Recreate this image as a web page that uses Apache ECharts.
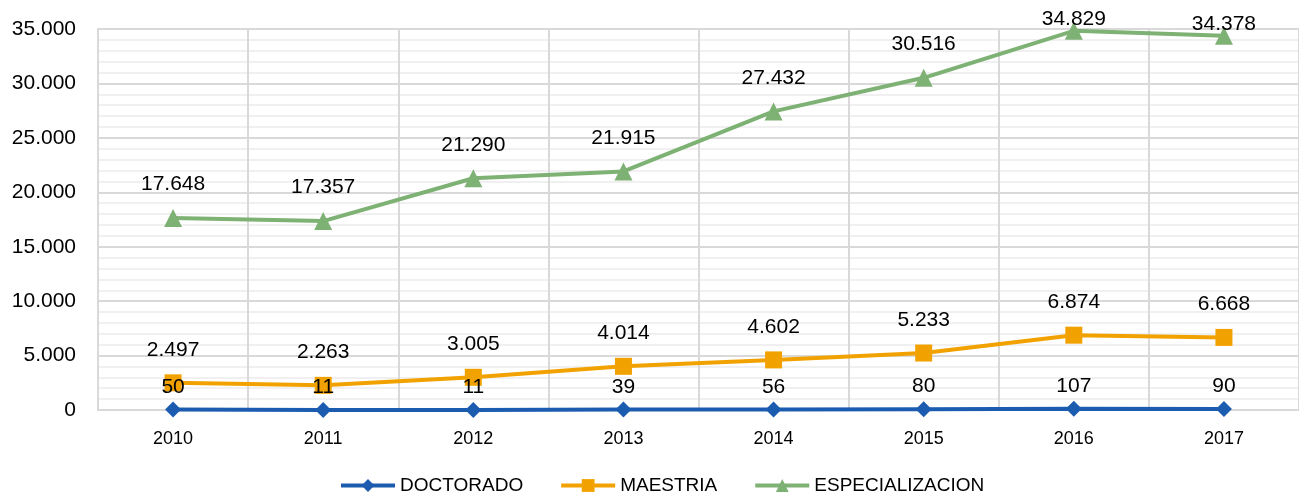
<!DOCTYPE html>
<html>
<head>
<meta charset="utf-8">
<script src="https://cdn.jsdelivr.net/npm/echarts@6/dist/echarts.min.js"></script>
<style>
html,body{margin:0;padding:0;background:#fff;}
#chart{width:1299px;height:501px;}
</style>
</head>
<body>
<div id="chart"></div>
<script>
const categories = ['2010','2011','2012','2013','2014','2015','2016','2017'];
const doctorado = [50, 11, 11, 39, 56, 80, 107, 90];
const maestria = [2497, 2263, 3005, 4014, 4602, 5233, 6874, 6668];
const especializacion = [17648, 17357, 21290, 21915, 27432, 30516, 34829, 34378];
const seriesNames = ['DOCTORADO', 'MAESTRIA', 'ESPECIALIZACION'];
const Y_MAX = 35000;

function fmt(v){
  return String(Math.round(v)).replace(/\B(?=(\d{3})+(?!\d))/g, '.');
}
const FONT = '"Liberation Sans", Arial, sans-serif';
const chart = echarts.init(document.getElementById('chart'), null, {renderer:'canvas'});
function mk(name, data, color, symbol, size, dist){
  // labels near the top of the plot are pulled down so they stay inside the picture
  const items = data.map(v => v > Y_MAX * 0.96 ? {value: v, label: {distance: -8}} : v);
  return {
    name: name, type: 'line', data: items,
    symbol: symbol, symbolSize: size,
    lineStyle: {color: color, width: 4},
    itemStyle: {color: color},
    label: {show: true, position: 'top', distance: dist, color: '#000',
      fontFamily: FONT, fontSize: 21, formatter: p => fmt(p.value)},
    emphasis: {disabled: true},
    animation: false
  };
}
chart.setOption({
  animation: false,
  textStyle: {fontFamily: FONT},
  grid: {left: 98, right: 0, top: 29, bottom: 91, containLabel: false},
  legend: {
    bottom: 1, left: 334, itemWidth: 54, itemHeight: 16, itemGap: 36,
    lineStyle: {width: 4},
    textStyle: {fontFamily: FONT, fontSize: 19, color: '#000'},
    data: seriesNames
  },
  xAxis: {
    type: 'category', data: categories, boundaryGap: true,
    axisLine: {show: true, lineStyle: {color: '#d9d9d9', width: 2}},
    axisTick: {show: false},
    axisLabel: {color: '#000', fontFamily: FONT, fontSize: 18, margin: 20},
    splitLine: {show: true, lineStyle: {color: '#d9d9d9', width: 2}}
  },
  yAxis: {
    type: 'value', min: 0, max: Y_MAX, interval: 5000,
    axisLine: {show: true, lineStyle: {color: '#d9d9d9', width: 2}},
    axisTick: {show: false},
    axisLabel: {color: '#000', fontFamily: FONT, fontSize: 21, margin: 22, formatter: v => fmt(v)},
    splitLine: {show: true, lineStyle: {color: '#d9d9d9', width: 2}},
    minorTick: {show: false, splitNumber: 5},
    minorSplitLine: {show: true, lineStyle: {color: '#f0f0f0', width: 2}}
  },
  series: [
    mk(seriesNames[0], doctorado, '#1c5cb0', 'diamond', 16, 4),
    mk(seriesNames[1], maestria, '#f2a200', 'rect', 17, 14),
    mk(seriesNames[2], especializacion, '#7eb174', 'triangle', 18, 14)
  ]
});
</script>
</body>
</html>
